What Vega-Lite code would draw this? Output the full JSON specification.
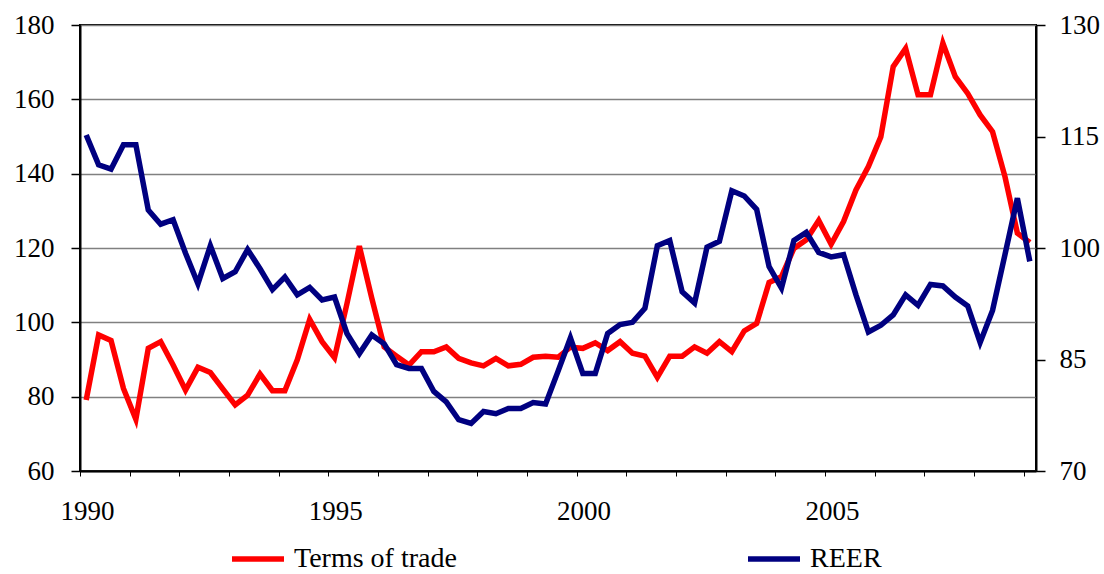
{
  "$schema": "https://vega.github.io/schema/vega-lite/v6.json",
  "width": 956,
  "height": 446,
  "autosize": {"type": "none"},
  "padding": {"left": 80, "top": 25, "right": 68, "bottom": 103},
  "background": "white",
  "config": {
    "font": "Liberation Serif",
    "view": {"stroke": "black", "strokeWidth": 2},
    "axis": {
      "labelFont": "Liberation Serif",
      "labelFontSize": 27,
      "labelColor": "black",
      "domainColor": "black",
      "domainWidth": 2,
      "tickColor": "black",
      "title": null
    }
  },
  "data": {
    "values": [
      {"t": 1990.00, "tot": 79.1, "reer": 115.2},
      {"t": 1990.25, "tot": 96.6, "reer": 111.2},
      {"t": 1990.50, "tot": 95.1, "reer": 110.6},
      {"t": 1990.75, "tot": 82.2, "reer": 113.9},
      {"t": 1991.00, "tot": 73.9, "reer": 113.9},
      {"t": 1991.25, "tot": 93.0, "reer": 105.1},
      {"t": 1991.50, "tot": 94.8, "reer": 103.2},
      {"t": 1991.75, "tot": 88.5, "reer": 103.8},
      {"t": 1992.00, "tot": 81.8, "reer": 99.3},
      {"t": 1992.25, "tot": 87.9, "reer": 95.2},
      {"t": 1992.50, "tot": 86.5, "reer": 100.3},
      {"t": 1992.75, "tot": 82.1, "reer": 95.9},
      {"t": 1993.00, "tot": 77.8, "reer": 96.8},
      {"t": 1993.25, "tot": 80.4, "reer": 99.8},
      {"t": 1993.50, "tot": 86.1, "reer": 97.2},
      {"t": 1993.75, "tot": 81.6, "reer": 94.4},
      {"t": 1994.00, "tot": 81.6, "reer": 96.1},
      {"t": 1994.25, "tot": 89.9, "reer": 93.7},
      {"t": 1994.50, "tot": 100.8, "reer": 94.7},
      {"t": 1994.75, "tot": 94.8, "reer": 93.0},
      {"t": 1995.00, "tot": 90.5, "reer": 93.4},
      {"t": 1995.25, "tot": 105.0, "reer": 88.5},
      {"t": 1995.50, "tot": 120.5, "reer": 85.8},
      {"t": 1995.75, "tot": 106.5, "reer": 88.3},
      {"t": 1996.00, "tot": 93.4, "reer": 87.1},
      {"t": 1996.25, "tot": 90.9, "reer": 84.3},
      {"t": 1996.50, "tot": 88.5, "reer": 83.8},
      {"t": 1996.75, "tot": 92.1, "reer": 83.8},
      {"t": 1997.00, "tot": 92.1, "reer": 80.7},
      {"t": 1997.25, "tot": 93.4, "reer": 79.3},
      {"t": 1997.50, "tot": 90.3, "reer": 76.9},
      {"t": 1997.75, "tot": 89.1, "reer": 76.4},
      {"t": 1998.00, "tot": 88.3, "reer": 78.0},
      {"t": 1998.25, "tot": 90.3, "reer": 77.7},
      {"t": 1998.50, "tot": 88.3, "reer": 78.4},
      {"t": 1998.75, "tot": 88.7, "reer": 78.4},
      {"t": 1999.00, "tot": 90.6, "reer": 79.2},
      {"t": 1999.25, "tot": 90.9, "reer": 79.0},
      {"t": 1999.50, "tot": 90.6, "reer": 83.4},
      {"t": 1999.75, "tot": 93.3, "reer": 87.9},
      {"t": 2000.00, "tot": 93.0, "reer": 83.1},
      {"t": 2000.25, "tot": 94.5, "reer": 83.1},
      {"t": 2000.50, "tot": 92.4, "reer": 88.5},
      {"t": 2000.75, "tot": 94.8, "reer": 89.7},
      {"t": 2001.00, "tot": 91.7, "reer": 90.0},
      {"t": 2001.25, "tot": 90.9, "reer": 91.9},
      {"t": 2001.50, "tot": 85.2, "reer": 100.3},
      {"t": 2001.75, "tot": 90.9, "reer": 101.0},
      {"t": 2002.00, "tot": 90.9, "reer": 94.1},
      {"t": 2002.25, "tot": 93.4, "reer": 92.6},
      {"t": 2002.50, "tot": 91.7, "reer": 100.1},
      {"t": 2002.75, "tot": 94.8, "reer": 100.9},
      {"t": 2003.00, "tot": 92.1, "reer": 107.7},
      {"t": 2003.25, "tot": 97.7, "reer": 107.0},
      {"t": 2003.50, "tot": 99.7, "reer": 105.2},
      {"t": 2003.75, "tot": 110.7, "reer": 97.5},
      {"t": 2004.00, "tot": 112.3, "reer": 94.6},
      {"t": 2004.25, "tot": 119.9, "reer": 101.0},
      {"t": 2004.50, "tot": 122.2, "reer": 102.1},
      {"t": 2004.75, "tot": 127.4, "reer": 99.4},
      {"t": 2005.00, "tot": 121.0, "reer": 98.8},
      {"t": 2005.25, "tot": 127.1, "reer": 99.1},
      {"t": 2005.50, "tot": 135.6, "reer": 93.7},
      {"t": 2005.75, "tot": 141.9, "reer": 88.7},
      {"t": 2006.00, "tot": 149.9, "reer": 89.6},
      {"t": 2006.25, "tot": 168.8, "reer": 91.0},
      {"t": 2006.50, "tot": 173.7, "reer": 93.7},
      {"t": 2006.75, "tot": 161.2, "reer": 92.3},
      {"t": 2007.00, "tot": 161.2, "reer": 95.1},
      {"t": 2007.25, "tot": 175.1, "reer": 94.9},
      {"t": 2007.50, "tot": 166.1, "reer": 93.4},
      {"t": 2007.75, "tot": 161.6, "reer": 92.2},
      {"t": 2008.00, "tot": 155.8, "reer": 87.3},
      {"t": 2008.25, "tot": 151.3, "reer": 91.6},
      {"t": 2008.50, "tot": 139.2, "reer": 99.1},
      {"t": 2008.75, "tot": 124.0, "reer": 106.7},
      {"t": 2009.00, "tot": 121.5, "reer": 98.2}
    ]
  },
  "layer": [
    {
      "mark": {"type": "line", "strokeWidth": 5.5, "clip": true},
      "encoding": {
        "x": {
          "field": "t",
          "type": "quantitative",
          "scale": {"domain": [1989.875, 2009.125], "nice": false, "zero": false},
          "axis": {
            "orient": "bottom",
            "values": [1989.875,1990.125,1990.375,1990.625,1990.875,1991.125,1991.375,1991.625,1991.875,1992.125,1992.375,1992.625,1992.875,1993.125,1993.375,1993.625,1993.875,1994.125,1994.375,1994.625,1994.875,1995.125,1995.375,1995.625,1995.875,1996.125,1996.375,1996.625,1996.875,1997.125,1997.375,1997.625,1997.875,1998.125,1998.375,1998.625,1998.875,1999.125,1999.375,1999.625,1999.875,2000.125,2000.375,2000.625,2000.875,2001.125,2001.375,2001.625,2001.875,2002.125,2002.375,2002.625,2002.875,2003.125,2003.375,2003.625,2003.875,2004.125,2004.375,2004.625,2004.875,2005.125,2005.375,2005.625,2005.875,2006.125,2006.375,2006.625,2006.875,2007.125,2007.375,2007.625,2007.875,2008.125,2008.375,2008.625,2008.875,2009.125],
            "labelExpr": "(datum.value + 0.125) % 5 == 0 ? '' + (datum.value + 0.125) : ''",
            "labelOffset": 7,
            "labelOverlap": false,
            "labelFlush": false,
            "labelPadding": 22,
            "tickSize": 5,
            "tickWidth": 1,
            "grid": false
          }
        },
        "y": {
          "field": "tot",
          "type": "quantitative",
          "scale": {"domain": [60, 180], "nice": false, "zero": false},
          "axis": {
            "orient": "left",
            "values": [60, 80, 100, 120, 140, 160, 180],
            "grid": true,
            "gridColor": "#808080",
            "gridWidth": 1.5,
            "tickSize": 9,
            "tickWidth": 1.5,
            "labelPadding": 17
          }
        },
        "color": {
          "datum": "Terms of trade",
          "type": "nominal",
          "scale": {"domain": ["Terms of trade", "REER"], "range": ["#ff0000", "#000080"]},
          "legend": {
            "orient": "none",
            "legendX": 149,
            "legendY": 505,
            "direction": "horizontal",
            "title": null,
            "padding": 0,
            "symbolType": "stroke",
            "symbolSize": 2704,
            "symbolStrokeWidth": 5.5,
            "labelFont": "Liberation Serif",
            "labelFontSize": 28,
            "labelColor": "black",
            "labelLimit": 400,
            "labelOffset": 7,
            "columnPadding": 280
          }
        }
      }
    },
    {
      "mark": {"type": "line", "strokeWidth": 5.5, "clip": true},
      "encoding": {
        "x": {"field": "t", "type": "quantitative"},
        "y": {
          "field": "reer",
          "type": "quantitative",
          "scale": {"domain": [70, 130], "nice": false, "zero": false},
          "axis": {
            "orient": "right",
            "values": [70, 85, 100, 115, 130],
            "grid": false,
            "tickSize": 9,
            "tickWidth": 1.5,
            "labelPadding": 14
          }
        },
        "color": {"datum": "REER", "type": "nominal"}
      }
    }
  ],
  "resolve": {"scale": {"y": "independent"}}
}
